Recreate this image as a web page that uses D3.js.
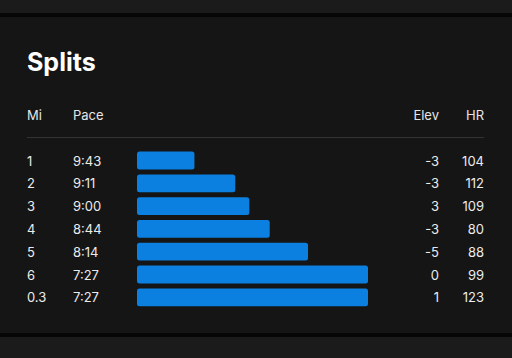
<!DOCTYPE html>
<html><head><meta charset="utf-8">
<script src="https://cdn.jsdelivr.net/npm/d3@7"></script>
<style>
html,body{margin:0;padding:0;background:#1b1b1b;}
svg{display:block;}
</style></head>
<body>
<svg id="c" width="512" height="358"></svg>
<script>
const miles = ["1","2","3","4","5","6","0.3"];
const paces = ["9:43","9:11","9:00","8:44","8:14","7:27","7:27"];
const elev = [-3,-3,3,-3,-5,0,1];
const hr = [104,112,109,80,88,99,123];
const headers = ["Mi","Pace","Elev","HR"];

const toSec = p => { const [m,s] = p.split(":").map(Number); return m*60+s; };
const secs = paces.map(toSec);

const svg = d3.select("#c");
svg.append("rect").attr("x",0).attr("y",0).attr("width",512).attr("height",358).attr("fill","#1b1b1b");
svg.append("rect").attr("x",0).attr("y",13).attr("width",512).attr("height",324).attr("fill","#060606");
svg.append("rect").attr("x",0).attr("y",17).attr("width",512).attr("height",316).attr("fill","#151515");

const font = "Inter, 'Noto Sans', sans-serif";

svg.append("text").attr("x",27).attr("y",71).text("Splits")
  .attr("fill","#ffffff").attr("font-family",font).attr("font-weight",700).attr("font-size",25);

const colX = {Mi:27, Pace:73, Elev:439, HR:484};
headers.forEach(h => {
  svg.append("text").attr("x",colX[h]).attr("y",120).text(h)
    .attr("text-anchor", (h==="Elev"||h==="HR") ? "end" : "start")
    .attr("fill","#e6e6e6").attr("font-family",font).attr("font-size",13);
});
svg.append("line").attr("x1",27).attr("x2",484).attr("y1",137.5).attr("y2",137.5)
  .attr("stroke","#333333").attr("stroke-width",1);

const y = d3.scaleBand().domain(d3.range(miles.length)).range([149.1, 308.7])
  .paddingInner(0.22).paddingOuter(0.11);
const x = d3.scaleLinear().domain([d3.max(secs)+45, d3.min(secs)]).range([137, 368]);

const rows = svg.selectAll("g.row").data(miles.map((m,i)=>({m, p:paces[i], s:secs[i], e:elev[i], h:hr[i], i})))
  .enter().append("g").attr("class","row");

rows.append("rect").attr("x",x.range()[0]).attr("y",d=>y(d.i))
  .attr("width",d=>x(d.s)-x.range()[0]).attr("height",y.bandwidth())
  .attr("rx",2.5).attr("fill","#0b80e0");

const base = d => y(d.i) + y.bandwidth()/2 + 5;
const txt = (sel, xx, anchor, f) => sel.append("text").attr("x",xx).attr("y",base)
  .attr("text-anchor",anchor).text(f).attr("fill","#ececec").attr("font-family",font).attr("font-size",13);
txt(rows, colX.Mi, "start", d=>d.m);
txt(rows, colX.Pace, "start", d=>d.p);
txt(rows, colX.Elev, "end", d=>d.e);
txt(rows, colX.HR, "end", d=>d.h);
</script>
</body></html>
